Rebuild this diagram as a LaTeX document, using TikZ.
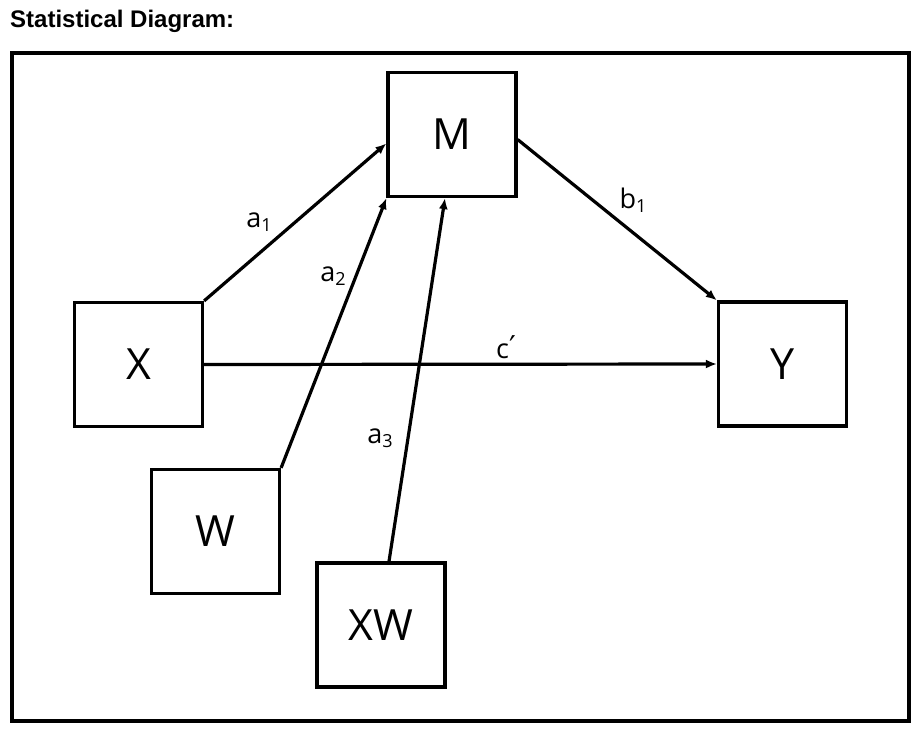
\documentclass[tikz,border=0pt]{standalone}
\usepackage{fontspec}
\setmainfont{Open Sans}
\newfontfamily\titlefont{Liberation Sans}
\newfontfamily\dvfont{DejaVu Sans}
\usetikzlibrary{arrows.meta,calc}
\newcommand{\sbs}[1]{\raisebox{-4pt}{\fontsize{18}{18}\selectfont #1}}
\begin{document}
\begin{tikzpicture}[x=1pt,y=-1pt,
  varbox/.style={draw,line width=3.2pt,minimum width=128pt,minimum height=124pt,inner sep=0pt,font=\fontsize{43}{43}\selectfont},
  conn/.style={line width=3.2pt,-{Latex[length=11pt,width=9pt]}},
  lab/.style={font=\fontsize{27}{27}\selectfont,inner sep=0pt}]
\useasboundingbox (0,0) rectangle (920,733);
\node[anchor=base west,inner sep=0pt,font=\titlefont\bfseries\fontsize{24}{24}\selectfont] (title) at (10,28) {Statistical Diagram:};
\draw[line width=3.8pt] (12,53) rectangle (909,721);
\node[varbox] (M) at (452,134.5) {M};
\node[varbox] (X) at (138.5,364.5) {X};
\node[varbox] (Y) at (782.5,364) {Y};
\node[varbox] (W) at (215.5,531.5) {W};
\node[varbox] (XW) at (381,625) {XW};
\draw[conn] (X.north east) -- ($(M.north west)!0.57!(M.south west)$);
\draw[conn] (W.north east) -- (M.south west);
\draw[conn] ([xshift=8pt]XW.north) -- ([xshift=-7pt]M.south);
\draw[conn] ([yshift=-5pt]M.east) -- (Y.north west);
\draw[conn] (X.east) -- (Y.west);
\node[lab] (la1) at (259,222) {a\sbs{1}};
\node[lab] (la2) at (333,276) {a\sbs{2}};
\node[lab] (la3) at (380,438) {a\sbs{3}};
\node[lab] (lb1) at (633,200) {b\sbs{1}};
\node[lab] (lc) at (506,347) {c{\dvfont\fontsize{30}{30}\selectfont\raisebox{1pt}{′}}};
\end{tikzpicture}
\end{document}
